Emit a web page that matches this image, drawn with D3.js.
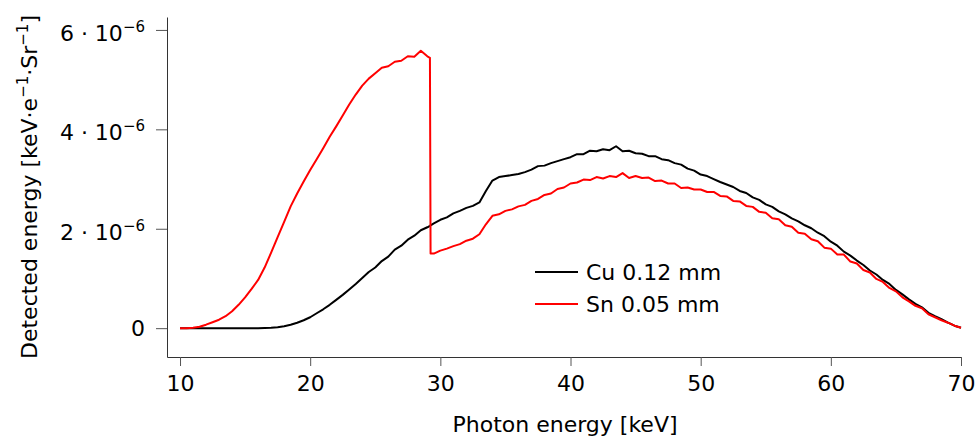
<!DOCTYPE html>
<html lang="en">
<head>
<meta charset="UTF-8">
<title>Detected energy</title>
<script src="https://cdn.jsdelivr.net/npm/d3@7"></script>
<style>
  body { margin: 0; background: #fff; }
  svg { font-family: "DejaVu Sans", sans-serif; }
</style>
</head>
<body>
<div id="chart"></div>
<script>
// photon energy [keV]
const energy = [
  10, 10.5, 11, 11.5, 12, 12.5, 13, 13.5, 14, 14.5, 15, 15.5, 16, 16.5, 17, 17.5, 18, 18.5, 19, 19.5,
  20, 20.5, 21, 21.5, 22, 22.5, 23, 23.5, 24, 24.5, 25, 25.5, 26, 26.5, 27, 27.5, 28, 28.5, 29, 29.2, 29.25, 29.5,
  30, 30.5, 31, 31.5, 32, 32.5, 33, 33.5, 34, 34.5, 35, 35.5, 36, 36.5, 37, 37.5, 38, 38.5, 39, 39.5,
  40, 40.5, 41, 41.5, 42, 42.5, 43, 43.5, 44, 44.5, 45, 45.5, 46, 46.5, 47, 47.5, 48, 48.5, 49, 49.5,
  50, 50.5, 51, 51.5, 52, 52.5, 53, 53.5, 54, 54.5, 55, 55.5, 56, 56.5, 57, 57.5, 58, 58.5, 59, 59.5,
  60, 60.5, 61, 61.5, 62, 62.5, 63, 63.5, 64, 64.5, 65, 65.5, 66, 66.5, 67, 67.5, 68, 68.5, 69, 69.5, 70
];

// detected energy, in units of 1e-6 keV/e/Sr
const cu = [
  0, 0, 0, 0, 0, 0, 0, 0, 0, 0, 0, 0, 0, 0.005, 0.01, 0.02, 0.04, 0.07, 0.11, 0.16,
  0.22, 0.30, 0.38, 0.47, 0.57, 0.67, 0.78, 0.89, 1.01, 1.13, 1.22, 1.35, 1.44, 1.58, 1.66, 1.78, 1.86, 1.97, 2.03, 2.06, 2.07, 2.11,
  2.18, 2.23, 2.31, 2.36, 2.42, 2.46, 2.53, 2.76, 2.97, 3.04, 3.06, 3.08, 3.10, 3.14, 3.19, 3.26, 3.27, 3.32, 3.36, 3.40,
  3.44, 3.50, 3.50, 3.57, 3.56, 3.60, 3.58, 3.66, 3.56, 3.57, 3.52, 3.51, 3.46, 3.46, 3.40, 3.38, 3.32, 3.29, 3.21, 3.17,
  3.09, 3.06, 3.00, 2.94, 2.89, 2.84, 2.76, 2.72, 2.63, 2.58, 2.49, 2.44, 2.35, 2.29, 2.21, 2.15, 2.07, 2.01, 1.92, 1.85,
  1.74, 1.66, 1.54, 1.46, 1.36, 1.27, 1.16, 1.08, 0.97, 0.89, 0.77, 0.68, 0.58, 0.49, 0.42, 0.31, 0.24, 0.18, 0.11, 0.05, 0.01
];

const sn = [
  0, 0, 0.01, 0.03, 0.07, 0.12, 0.17, 0.24, 0.34, 0.47, 0.62, 0.79, 0.97, 1.22, 1.52, 1.83, 2.14, 2.45, 2.71, 2.95,
  3.18, 3.40, 3.62, 3.85, 4.06, 4.28, 4.50, 4.70, 4.88, 5.02, 5.13, 5.24, 5.27, 5.36, 5.38, 5.47, 5.46, 5.58, 5.47, 5.44, 1.50, 1.50,
  1.56, 1.60, 1.65, 1.69, 1.76, 1.80, 1.89, 2.09, 2.26, 2.29, 2.36, 2.39, 2.45, 2.48, 2.56, 2.60, 2.68, 2.71, 2.80, 2.83,
  2.91, 2.93, 2.99, 2.98, 3.04, 3.01, 3.06, 3.04, 3.12, 3.02, 3.06, 3.02, 3.03, 2.96, 2.97, 2.91, 2.91, 2.82, 2.83, 2.79,
  2.79, 2.74, 2.74, 2.66, 2.65, 2.56, 2.55, 2.46, 2.44, 2.34, 2.32, 2.21, 2.19, 2.07, 2.04, 1.92, 1.90, 1.79, 1.75, 1.62,
  1.60, 1.48, 1.48, 1.34, 1.30, 1.17, 1.12, 0.99, 0.93, 0.81, 0.74, 0.62, 0.54, 0.45, 0.40, 0.28, 0.22, 0.16, 0.11, 0.05, 0.01
];

const seriesNames = ["Cu 0.12 mm", "Sn 0.05 mm"];
const seriesColors = ["#000000", "#ff0000"];
const xTicks = [10, 20, 30, 40, 50, 60, 70];
const yTicks = [0, 2, 4, 6];

const width = 976, height = 439;

const svg = d3.select("#chart").append("svg")
    .attr("width", width)
    .attr("height", height);

const x = d3.scaleLinear().domain([9, 70]).range([167, 961]);
const y = d3.scaleLinear().domain([-0.58, 6.26]).range([357, 17]);

// axes
const xAxis = svg.append("g")
    .attr("transform", `translate(0,${y.range()[0]})`)
    .call(d3.axisBottom(x).tickValues(xTicks).tickSize(9).tickSizeOuter(0).tickPadding(9));
xAxis.selectAll("text")
    .attr("font-size", 22)
    .attr("font-family", "DejaVu Sans, sans-serif")
    .attr("fill", "#000");

svg.append("g")
    .attr("transform", `translate(${x.range()[0]},0)`)
    .call(d3.axisLeft(y).tickValues(yTicks).tickSize(11).tickSizeOuter(0).tickFormat(""));

svg.selectAll(".domain").attr("stroke", "#333");
svg.selectAll(".tick line").attr("stroke", "#555");

// y tick labels with exponent
yTicks.forEach(t => {
  const txt = svg.append("text")
      .attr("x", 145)
      .attr("y", y(t) + (t === 0 ? 8 : 11))
      .attr("text-anchor", "end")
      .attr("font-size", 22)
      .attr("fill", "#000");
  if (t === 0) {
    txt.text("0");
  } else {
    txt.append("tspan").text(`${t} \u00b7 10`);
    txt.append("tspan").attr("font-size", 15).attr("dy", -9).text("\u22126");
  }
});

// axis titles
svg.append("text")
    .attr("x", 565)
    .attr("y", 432)
    .attr("text-anchor", "middle")
    .attr("font-size", 22)
    .text("Photon energy [keV]");

const yl = svg.append("text")
    .attr("transform", "translate(37,187) rotate(-90)")
    .attr("text-anchor", "middle")
    .attr("font-size", 22);
yl.append("tspan").text("Detected energy [keV\u00b7e");
yl.append("tspan").attr("font-size", 15).attr("dy", -9).text("\u22121");
yl.append("tspan").attr("dy", 9).text("\u00b7Sr");
yl.append("tspan").attr("font-size", 15).attr("dy", -9).text("\u22121");
yl.append("tspan").attr("dy", 9).text("]");

// series
const series = [cu, sn];
const line = d3.line()
    .x((d, i) => x(energy[i]))
    .y(d => y(d));

series.forEach((vals, k) => {
  svg.append("path")
      .datum(vals)
      .attr("fill", "none")
      .attr("stroke", seriesColors[k])
      .attr("stroke-width", 2)
      .attr("stroke-linejoin", "round")
      .attr("d", line);
});

// legend
const legend = svg.append("g").attr("transform", "translate(535,272)");
seriesNames.forEach((name, k) => {
  const row = legend.append("g").attr("transform", `translate(0,${k * 32})`);
  row.append("line")
      .attr("x1", 0).attr("x2", 43)
      .attr("stroke", seriesColors[k])
      .attr("stroke-width", 2);
  row.append("text")
      .attr("x", 51)
      .attr("y", 8)
      .attr("font-size", 22)
      .text(name);
});
</script>
</body>
</html>
